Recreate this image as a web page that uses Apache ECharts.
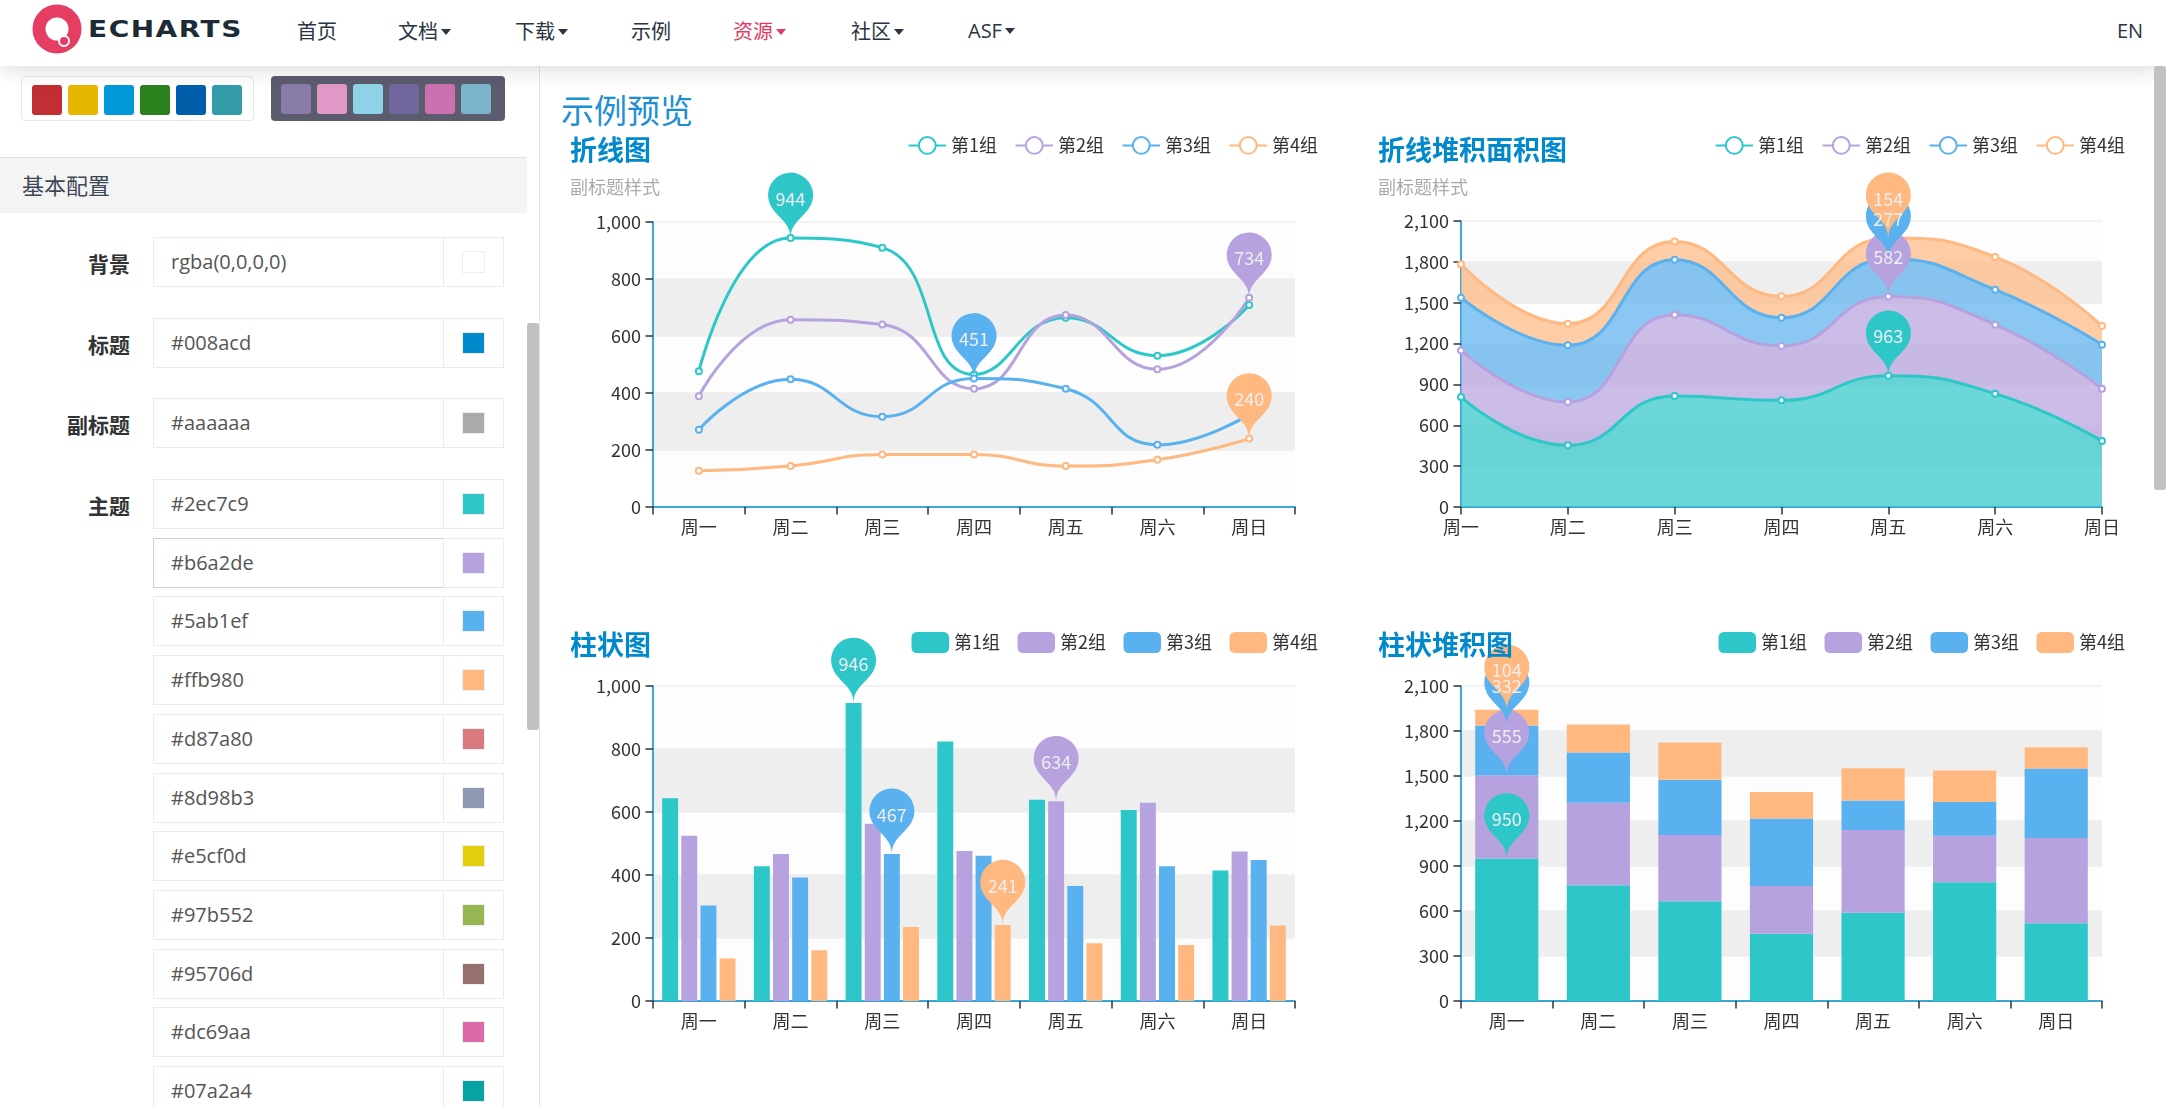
<!DOCTYPE html>
<html>
<head>
<meta charset="utf-8">
<script src="https://cdn.jsdelivr.net/npm/echarts@6/dist/echarts.min.js"></script>
<style>
html,body{margin:0;padding:0;}
body{width:2166px;height:1107px;overflow:hidden;background:#fff;position:relative;font-family:"Noto Sans CJK SC","Open Sans",sans-serif;}
#nav{position:absolute;left:0;top:0;width:2166px;height:66px;background:#fff;box-shadow:0 2px 22px rgba(0,0,0,0.16);z-index:5;}
#nav .item{position:absolute;top:14px;font-size:20px;line-height:34px;color:#2a3442;white-space:nowrap;}
#nav .item.active{color:#e43961;}
#nav .caret{display:inline-block;width:0;height:0;border-left:5px solid transparent;border-right:5px solid transparent;border-top:6px solid currentColor;margin-left:3px;vertical-align:middle;position:relative;top:-2px;}
#brand{position:absolute;left:88px;top:10px;font-family:"DejaVu Sans",sans-serif;font-weight:bold;font-size:28px;letter-spacing:1.5px;color:#1c2b36;line-height:40px;transform:scaleY(0.82);transform-origin:left center;}
#side{position:absolute;left:0;top:66px;width:539px;height:1041px;border-right:1.5px solid #e2e2e2;background:#fff;}
.pal{position:absolute;top:10px;height:45px;border-radius:4px;box-sizing:border-box;}
.pal span{position:absolute;top:8px;width:30px;height:30px;border-radius:3px;}
#band{position:absolute;left:0;top:91px;width:527px;height:56px;background:#f4f4f4;border-top:1.5px solid #e0e0e0;box-sizing:border-box;}
#band span{position:absolute;left:22px;top:10px;font-size:22px;color:#3d4756;}
.row{position:absolute;left:153px;width:351px;height:50px;}
.row .lab{position:absolute;right:374px;top:11px;font-size:21px;font-weight:bold;color:#333;white-space:nowrap;}
.row .inp{position:absolute;left:0;top:0;width:291px;height:50px;box-sizing:border-box;border:1.5px solid #ebebeb;font-family:"Open Sans",sans-serif;font-size:20px;color:#555;padding-left:17px;line-height:47px;}
.row .add{position:absolute;left:290px;top:0;width:61px;height:50px;box-sizing:border-box;border:1.5px solid #ebebeb;}
.row .add i{position:absolute;left:18px;top:13px;width:23px;height:22px;border:1px solid #eee;box-sizing:border-box;}
.row.focus .inp{border-color:#cfcfcf;}
#sscroll{position:absolute;left:527px;top:257px;width:12px;height:407px;background:#c1c1c1;border-radius:3px;}
#mscroll{position:absolute;left:2154px;top:66px;width:12px;height:424px;background:#c1c1c1;border-radius:3px;z-index:6;}
#heading{position:absolute;left:561px;top:87px;font-size:33px;color:#1e8fd5;line-height:44px;}
.chart{position:absolute;width:790px;height:440px;}
</style>
</head>
<body>
<div id="nav">
  <svg style="position:absolute;left:30px;top:4px" width="56" height="56" viewBox="0 0 56 56">
    <circle cx="27" cy="25" r="18" fill="none" stroke="#e63d63" stroke-width="13"/>
    <circle cx="34" cy="37" r="5" fill="#e63d63" stroke="#fff" stroke-width="2"/>
  </svg>
  <div id="brand">ECHARTS</div>
  <div class="item" style="left:297px">首页</div>
  <div class="item" style="left:398px">文档<span class="caret"></span></div>
  <div class="item" style="left:515px">下载<span class="caret"></span></div>
  <div class="item" style="left:631px">示例</div>
  <div class="item active" style="left:733px">资源<span class="caret"></span></div>
  <div class="item" style="left:851px">社区<span class="caret"></span></div>
  <div class="item" style="left:968px;font-family:'Open Sans',sans-serif">ASF<span class="caret"></span></div>
  <div class="item" style="left:2117px;font-family:'Open Sans',sans-serif">EN</div>
</div>
<div id="side">
  <div id="pal1" class="pal" style="left:21px;width:233px;border:1.5px solid #e6e6e6;background:#fff;"></div>
  <div id="pal2" class="pal" style="left:271px;width:234px;background:#5b5c6e;"></div>
  <div id="band"><span>基本配置</span></div>
  <div id="rows"></div>
  <div id="sscroll"></div>
</div>
<div id="mscroll"></div>
<div id="heading">示例预览</div>
<div id="c1" class="chart" style="left:555px;top:125px"></div>
<div id="c2" class="chart" style="left:1360px;top:125px"></div>
<div id="c3" class="chart" style="left:555px;top:610px"></div>
<div id="c4" class="chart" style="left:1360px;top:610px"></div>
<script>
// ---------- data ----------
const days = ['周一','周二','周三','周四','周五','周六','周日'];
const groups = ['第1组','第2组','第3组','第4组'];
const palette = ['#2ec7c9','#b6a2de','#5ab1ef','#ffb980','#d87a80','#8d98b3','#e5cf0d','#97b552','#95706d','#dc69aa','#07a2a4'];

const lineG1 = [476, 944, 910, 465, 664, 531, 709];
const lineG2 = [389, 657, 640, 415, 674, 483, 734];
const lineG3 = [271, 448, 317, 451, 415, 218, 325];
const lineG4 = [127, 144, 184, 184, 144, 166, 240];

const areaG1 = [808, 453, 815, 783, 963, 832, 485];
const areaG2 = [342, 318, 597, 399, 582, 507, 384];
const areaG3 = [387, 416, 404, 208, 277, 257, 323];
const areaG4 = [245, 159, 134, 157, 154, 240, 137];

const barG1 = [644, 428, 946, 824, 639, 606, 414];
const barG2 = [525, 467, 563, 476, 634, 629, 475];
const barG3 = [303, 392, 467, 461, 365, 428, 448];
const barG4 = [135, 161, 235, 241, 183, 178, 240];

const stackG1 = [950, 772, 665, 448, 588, 792, 519];
const stackG2 = [555, 550, 442, 319, 552, 310, 568];
const stackG3 = [332, 335, 368, 450, 197, 224, 463];
const stackG4 = [104, 186, 248, 176, 215, 211, 142];

const yMaxSmall = 1000, yStepSmall = 200;
const yMaxBig = 2100, yStepBig = 300;

// sidebar content
const palShine = ['#c12e34','#e6b600','#0098d9','#2b821d','#005eaa','#339ca8'];
const palPurple = ['#8a7ca8','#e098c7','#8fd3e8','#71669e','#cc70af','#7cb4cc'];
const sideLabels = ['背景','标题','副标题','主题'];
const sideValues = ['rgba(0,0,0,0)','#008acd','#aaaaaa'].concat(palette);

// ---------- sidebar ----------
function fillPal(id, cols){
  const el = document.getElementById(id);
  cols.forEach((c,i)=>{const s=document.createElement('span');s.style.left=(10+i*36)+'px';s.style.background=c;el.appendChild(s);});
}
fillPal('pal1', palShine); fillPal('pal2', palPurple);
const rowTops = [171,252,332,413];
const rowsEl = document.getElementById('rows');
sideValues.forEach((v,i)=>{
  const top = i < 4 ? rowTops[i] : 413 + (i-3)*58.7;
  const r = document.createElement('div');
  r.className = 'row' + (i===4 ? ' focus' : '');
  r.style.top = top + 'px';
  let html = '';
  if (i < 4) html += '<div class="lab">' + sideLabels[i] + '</div>';
  html += '<div class="inp">' + v + '</div>';
  html += '<div class="add"><i style="background:' + (i===0 ? '#fff' : v) + '"></i></div>';
  r.innerHTML = html;
  rowsEl.appendChild(r);
});

// ---------- charts ----------
const FS = 18;
const FONT = '"Noto Sans CJK SC", sans-serif';
const txt = {color:'#333', fontSize:FS, fontFamily:FONT};

function valueAxis(max, step){
  return {type:'value', min:0, max:max, interval:step,
    axisLine:{show:true, lineStyle:{color:'#008acd', width:1.5}},
    axisTick:{show:true, length:7.5, lineStyle:{color:'#333', width:1.5}},
    axisLabel:Object.assign({margin:12}, txt),
    splitLine:{show:true, lineStyle:{color:['#eee'], width:1.5}},
    splitArea:{show:true, areaStyle:{color:['rgba(250,250,250,0.3)','rgba(200,200,200,0.3)']}}};
}
function catAxis(gap){
  return {type:'category', data:days, boundaryGap:gap,
    axisLine:{show:true, lineStyle:{color:'#008acd', width:1.5}},
    axisTick:{show:true, length:7.5, lineStyle:{color:'#333', width:1.5}},
    axisLabel:Object.assign({margin:11}, txt),
    splitLine:{show:false}};
}
function title(t, sub, top){
  return {text:t, subtext:sub, left:15, top:top, padding:0, itemGap:15,
    textStyle:{color:'#008acd', fontSize:27, fontWeight:'bold', fontFamily:FONT},
    subtextStyle:{color:'#aaa', fontSize:FS, fontFamily:FONT}};
}
function legend(top, right, rect){
  const l = {data:groups, top:top, right:right, padding:0, itemGap:17.5, itemWidth:37.5, itemHeight:21, textStyle:txt};
  if (rect) l.icon = 'roundRect';
  return l;
}
const markMax = {symbol:'pin', symbolSize:75, data:[{type:'max'}],
  label:{fontSize:FS, color:'#eee', fontFamily:FONT}};

function lineSeries(name, data, stack){
  const s = {name:name, type:'line', smooth:true, symbol:'emptyCircle', symbolSize:6,
    lineStyle:{width:3}, itemStyle:{borderWidth:2}, data:data, markPoint:markMax};
  if (stack){ s.stack = 'total'; s.areaStyle = {opacity:0.7}; }
  return s;
}
function barSeries(name, data, stack){
  const s = {name:name, type:'bar', data:data, markPoint:markMax};
  if (stack){ s.stack = 'total'; s.barCategoryGap = '31%'; }
  else { s.barGap = '20%'; s.barCategoryGap = '20%'; }
  return s;
}

const c1 = echarts.init(document.getElementById('c1'));
c1.setOption({animation:false, color:palette,
  title:title('折线图','副标题样式',11), legend:legend(11,27,false),
  grid:{left:98, right:50, top:97, bottom:58},
  xAxis:catAxis(true), yAxis:valueAxis(yMaxSmall,yStepSmall),
  series:[lineSeries(groups[0],lineG1),lineSeries(groups[1],lineG2),lineSeries(groups[2],lineG3),lineSeries(groups[3],lineG4)]});

const c2 = echarts.init(document.getElementById('c2'));
c2.setOption({animation:false, color:palette,
  title:Object.assign(title('折线堆积面积图','副标题样式',11),{left:18}), legend:legend(11,25,false),
  grid:{left:101, right:48, top:96, bottom:58},
  xAxis:catAxis(false), yAxis:valueAxis(yMaxBig,yStepBig),
  series:[lineSeries(groups[0],areaG1,true),lineSeries(groups[1],areaG2,true),lineSeries(groups[2],areaG3,true),lineSeries(groups[3],areaG4,true)]});

const c3 = echarts.init(document.getElementById('c3'));
c3.setOption({animation:false, color:palette,
  title:title('柱状图','',21), legend:legend(22,27,true),
  grid:{left:98, right:50, top:76, bottom:49},
  xAxis:catAxis(true), yAxis:valueAxis(yMaxSmall,yStepSmall),
  series:[barSeries(groups[0],barG1),barSeries(groups[1],barG2),barSeries(groups[2],barG3),barSeries(groups[3],barG4)]});

const c4 = echarts.init(document.getElementById('c4'));
c4.setOption({animation:false, color:palette,
  title:Object.assign(title('柱状堆积图','',21),{left:18}), legend:legend(22,25,true),
  grid:{left:101, right:48, top:76, bottom:49},
  xAxis:catAxis(true), yAxis:valueAxis(yMaxBig,yStepBig),
  series:[barSeries(groups[0],stackG1,true),barSeries(groups[1],stackG2,true),barSeries(groups[2],stackG3,true),barSeries(groups[3],stackG4,true)]});
</script>
</body>
</html>
